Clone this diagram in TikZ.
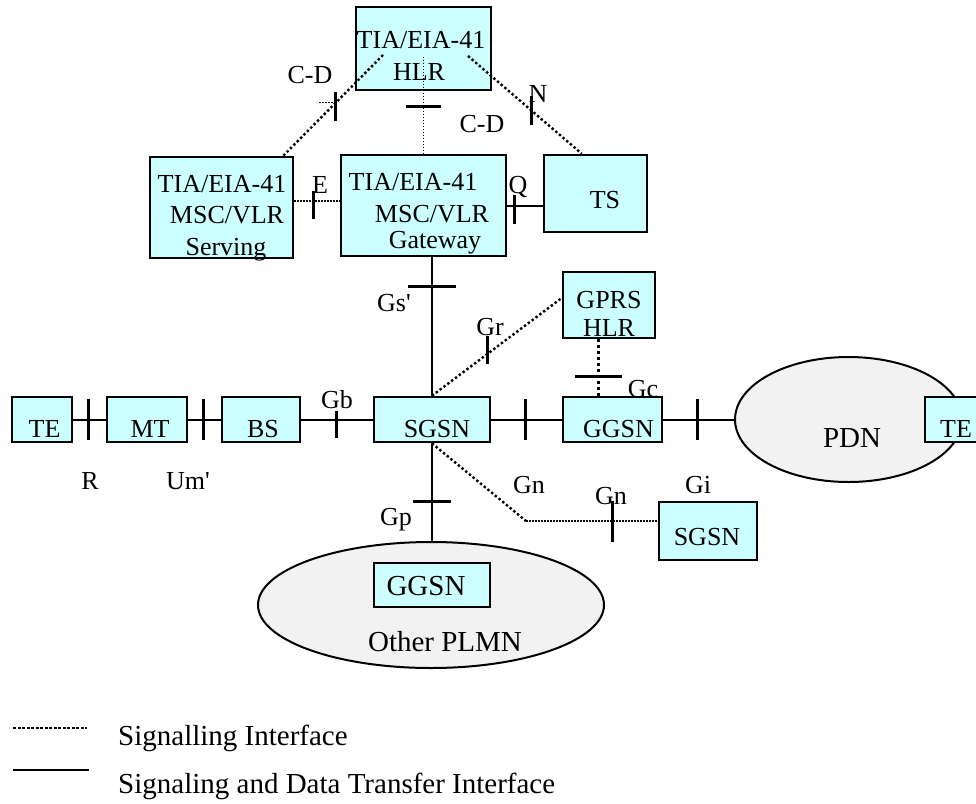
\documentclass[tikz,border=0pt]{standalone}
\usepackage{fontspec}
\setmainfont{Liberation Serif}
\usetikzlibrary{shapes.geometric}
\definecolor{boxfill}{HTML}{CCFFFF}
\definecolor{cloud}{HTML}{F2F2F2}
\newcommand{\fsmain}{\fontsize{26pt}{31pt}\selectfont}
\newcommand{\fsbig}{\fontsize{29pt}{34pt}\selectfont}

\begin{document}
\begin{tikzpicture}[x=1pt,y=-1pt,
  unit/.style={draw,fill=boxfill,line width=2.6pt,inner sep=0pt},
  rowbox/.style={unit,minimum height=45pt},
  net/.style={ellipse,draw,fill=cloud,line width=2pt,inner sep=0pt},
  txt/.style={font=\fsmain,anchor=base,inner sep=0pt},
  bigtxt/.style={txt,font=\fsbig},
  data/.style={line width=2pt},
  sig/.style={line width=2.4pt,dash pattern=on 2.4pt off 2.4pt},
  sigthin/.style={line width=1.2pt,dash pattern=on 1.5pt off 1.5pt},
  sigthick/.style={line width=3pt,dash pattern=on 3pt off 3pt},
  vbar/.style={fill=black,inner sep=0pt,minimum width=3pt,minimum height=#1},
  vbar/.default=41pt,
  hbar/.style={fill=black,inner sep=0pt,minimum height=3pt,minimum width=#1}
]
  \useasboundingbox (0,0) rectangle (976,803);

  % networks
  \node[net,minimum width=227pt,minimum height=125pt] (pdn)  at (848.5,419.5) {};
  \node[net,minimum width=346pt,minimum height=126pt] (plmn) at (431,605) {};

  % boxes
  \node[unit,minimum width=135pt,minimum height=83pt]  (hlr)     at (423.5,48.5)  {};
  \node[unit,minimum width=143pt,minimum height=101pt] (serv)    at (221.5,207.5) {};
  \node[unit,minimum width=165pt,minimum height=101pt] (gw)      at (423.5,205.5) {};
  \node[unit,minimum width=103pt,minimum height=77pt]  (ts)      at (595.5,193.5) {};
  \node[unit,minimum width=92pt,minimum height=66pt]   (gprshlr) at (609,305)     {};
  \node[rowbox,minimum width=60pt]  (te1)  at (42,419.5)    {};
  \node[rowbox,minimum width=80pt]  (mt)   at (147,419.5)   {};
  \node[rowbox,minimum width=78pt]  (bs)   at (261,419.5)   {};
  \node[rowbox,minimum width=116pt] (sgsn) at (432,419.5)   {};
  \node[rowbox,minimum width=99pt]  (ggsn) at (612.5,419.5) {};
  \node[rowbox,minimum width=60pt]  (te2)  at (955,419.5)   {};
  \node[unit,minimum width=98pt,minimum height=58pt]   (sgsn2) at (708,531) {};
  \node[unit,minimum width=116pt,minimum height=44pt]  (ggsn2) at (432,585) {};

  % box texts
  \node[txt] (hlr-l1)  at (421,48)  {TIA/EIA-41};
  \node[txt] (hlr-l2)  at (419,80)  {HLR};
  \node[txt] (serv-l1) at (222,192) {TIA/EIA-41};
  \node[txt] (serv-l2) at (227,223) {MSC/VLR};
  \node[txt] (serv-l3) at (226,255) {Serving};
  \node[txt] (gw-l1)   at (413,190) {TIA/EIA-41};
  \node[txt] (gw-l2)   at (432,222) {MSC/VLR};
  \node[txt] (gw-l3)   at (435,248) {Gateway};
  \node[txt] (ts-l)    at (605,208) {TS};
  \node[txt] (gprs-l1) at (609,308) {GPRS};
  \node[txt] (gprs-l2) at (609,336) {HLR};
  \node[txt] (te1-l)   at (44.5,437) {TE};
  \node[txt] (mt-l)    at (150,437)  {MT};
  \node[txt] (bs-l)    at (263,437)  {BS};
  \node[txt] (sgsn-l)  at (437,437)  {SGSN};
  \node[txt] (ggsn-l)  at (618.5,437) {GGSN};
  \node[txt] (te2-l)   at (956,437)  {TE};
  \node[txt] (sgsn2-l) at (707,545)  {SGSN};
  \node[bigtxt] (pdn-l)   at (852,447) {PDN};
  \node[bigtxt] (ggsn2-l) at (426,595) {GGSN};
  \node[bigtxt] (plmn-l)  at (445,651) {Other PLMN};

  % signalling interfaces
  \draw[sig] ([shift={(-40.5,6.5)}]hlr.center)
    -- node[vbar=29pt,pos=0.475,yshift=-4pt] (cdl-bar) {} ([xshift=-11pt]serv.north east);
  \draw[sigthin] ([yshift=4pt]cdl-bar.center) -- ++(-17,0);
  \draw[sigthin] ([yshift=-8pt]hlr.center) -- node[hbar=35pt,pos=0.51]{} (gw.north);
  \draw[sig] ([shift={(44.5,7.5)}]hlr.center)
    -- node[vbar=29pt,pos=0.557]{} ([xshift=39pt]ts.north west);
  \coordinate (e-start) at ([yshift=6.5pt]serv.east);
  \draw[sigthin] (e-start) -- node[vbar=28pt,pos=0.42,yshift=-4pt]{} (e-start -| gw.west);
  \draw[sig] (sgsn.north) -- node[vbar=28pt,pos=0.43,yshift=4pt]{} ([yshift=7pt]gprshlr.west);
  \coordinate (gc-top) at ([xshift=-11pt]gprshlr.south);
  \draw[sigthick] (gc-top) -- node[hbar=47pt,pos=0.66]{} (gc-top |- ggsn.north);
  \coordinate (gn-bend) at (526,521);
  \draw[sig] (sgsn.south) -- (gn-bend);
  \draw[sigthin] (gn-bend) -- node[vbar,pos=0.66]{} (gn-bend -| sgsn2.west);

  % signalling and data transfer interfaces
  \draw[data] (gw.east) -- node[vbar=29pt,pos=0.21,yshift=-4pt]{} (gw.east -| ts.west);
  \draw[data] (sgsn.north |- gw.south) -- node[hbar=48pt,pos=0.21]{} (sgsn.north);
  \draw[data] (te1.east) -- node[vbar,pos=0.46]{} (mt.west);
  \draw[data] (mt.east) -- node[vbar,pos=0.46]{} (bs.west);
  \draw[data] (bs.east) -- node[vbar=27pt,pos=0.49,yshift=-5pt]{} (sgsn.west);
  \draw[data] (sgsn.east) -- node[vbar,pos=0.49]{} (ggsn.west);
  \draw[data] (ggsn.east) -- node[vbar,pos=0.48]{} (pdn.west);
  \draw[data] (sgsn.south) -- node[hbar=38pt,pos=0.6]{} (sgsn.south |- plmn.north);

  % interface labels
  \node[txt] (lbl-cd1) at (310,83)  {C-D};
  \node[txt] (lbl-cd2) at (482,132) {C-D};
  \node[txt] (lbl-n)   at (538,102) {N};
  \node[txt] (lbl-e)   at (320,193) {E};
  \node[txt] (lbl-q)   at (518,193) {Q};
  \node[txt] (lbl-gs)  at (394,311) {Gs\textquotesingle};
  \node[txt] (lbl-gr)  at (490,335) {Gr};
  \node[txt] (lbl-gb)  at (337,408) {Gb};
  \node[txt] (lbl-gc)  at (643,397) {Gc};
  \node[txt] (lbl-r)   at (90,489)  {R};
  \node[txt] (lbl-um)  at (188,489) {Um\textquotesingle};
  \node[txt] (lbl-gn1) at (529,493) {Gn};
  \node[txt] (lbl-gn2) at (611,504) {Gn};
  \node[txt] (lbl-gi)  at (698,493) {Gi};
  \node[txt] (lbl-gp)  at (396,525) {Gp};

  % legend
  \coordinate (leg-sa) at (13,728);
  \coordinate (leg-sb) at (87,728);
  \coordinate (leg-da) at (13,770);
  \coordinate (leg-db) at (89,770);
  \draw[line width=2.6pt,dash pattern=on 3pt off 1.5pt] (leg-sa) -- (leg-sb);
  \draw[line width=2.6pt] (leg-da) -- (leg-db);
  \node[bigtxt,anchor=base west] (leg-sig)  at (118,745) {Signalling Interface};
  \node[bigtxt,anchor=base west] (leg-data) at (118,793) {Signaling and Data Transfer Interface};
\end{tikzpicture}
\end{document}
